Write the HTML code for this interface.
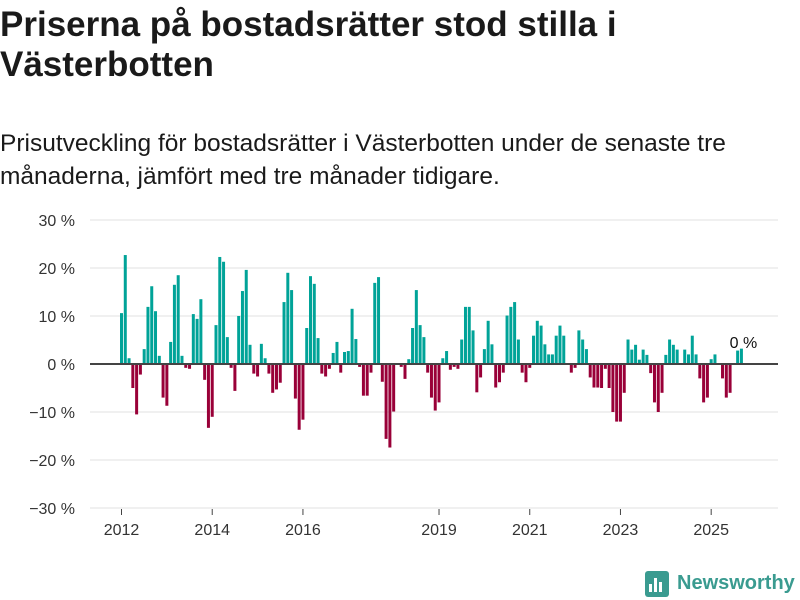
<!DOCTYPE html>
<html><head><meta charset="utf-8"><style>
body{margin:0;width:800px;height:600px;background:#fff;font-family:"Liberation Sans",sans-serif;color:#1a1a1a;overflow:hidden;position:relative}
h1{position:absolute;left:0;top:5px;margin:0;font-size:35px;line-height:40px;font-weight:bold;width:800px;white-space:nowrap}
p{position:absolute;left:0;top:127px;margin:0;font-size:24.5px;line-height:33px;width:800px;white-space:nowrap}
svg{position:absolute;left:0;top:0}
</style></head><body>
<h1>Priserna på bostadsrätter stod stilla i<br>Västerbotten</h1>
<p>Prisutveckling för bostadsrätter i Västerbotten under de senaste tre<br>månaderna, jämfört med tre månader tidigare.</p>
<svg width="800" height="600">
<g id="grid"></g><g id="bars"></g><g id="axes"></g>
<g>
<rect x="645" y="571" width="24" height="26" rx="3" fill="#3a9b90"/>
<rect x="649" y="584" width="3" height="8" fill="#fff"/><rect x="654" y="578" width="3" height="14" fill="#fff"/><rect x="659" y="582" width="3" height="10" fill="#fff"/>
<text x="677" y="589" font-size="20" font-weight="bold" fill="#3a9b90">Newsworthy</text>
</g>
</svg>
<script>
const values=[10.6,22.7,1.2,-5.0,-10.5,-2.2,3.1,11.9,16.2,11.0,1.7,-7.0,
-8.7,4.6,16.5,18.5,1.7,-0.8,-1.0,10.4,9.4,13.5,-3.3,-13.3,
-11,8.1,22.3,21.3,5.6,-0.8,-5.6,10,15.2,19.6,4.0,-2.0,
-2.6,4.2,1.2,-2.0,-6.0,-5.3,-3.9,
12.9,19,15.4,-7.2,-13.7,-11.6,7.5,18.3,16.7,5.4,-2.0,-2.6,-1.0,2.3,4.6,-1.8,2.5,2.7,11.5,5.2,-0.6,-6.6,-6.6,-1.8,16.9,18.1,-3.7,-15.6,-17.4,-9.9,0,-0.6,-3.1,1.0,7.5,15.4,8.1,5.6,-1.8,-7.0,-9.7,-8.0,
1.2,2.7,-1.2,-0.6,-1.0,5.1,11.9,11.9,7.0,-5.9,-2.8,3.1,9.0,4.1,-4.9,-3.8,-1.8,10.1,11.9,12.9,5.1,-1.8,-3.8,-0.8,5.9,9.0,8.0,4.1,2.0,2.0,5.9,8.0,5.9,0,-1.8,-0.8,7.0,5.1,3.1,-2.8,-4.9,-4.9,
-5,-1,-5,-10,-12,-12,-6,5.1,3.0,4.0,0.9,3.0,1.9,-1.9,-8,-10,-6,1.9,5.1,4,3,0,3,2,5.9,2,-3,-8,-7,1,2,0,-3,-7,-6,0,2.8,3.2];
const yTicks=[30,20,10,0,-10,-20,-30];
const xYears=[2012,2014,2016,2019,2021,2023,2025];
const startYear=2012;
const lastLabel="0 %";
const NS="http://www.w3.org/2000/svg";
const y=v=>364-v*4.8;
const x=i=>121.5+i*3.78;
const xYear=yr=>x((yr-startYear)*12);
function mk(t,a,p){const e=document.createElementNS(NS,t);for(const k in a)e.setAttribute(k,a[k]);p.appendChild(e);return e;}
const grid=document.getElementById('grid'),bars=document.getElementById('bars'),axes=document.getElementById('axes');
yTicks.forEach(v=>{
 if(v!==0){const l=mk('line',{x1:90,x2:778,y1:y(v),y2:y(v),stroke:'#e0e0e0','stroke-width':1},grid);
 
 }
 const t=mk('text',{x:75,y:y(v)+6,'text-anchor':'end','font-size':16,fill:'#333'},axes);
 t.textContent=(v<0?'−'+(-v):v)+' %';
 
 
});
values.forEach((v,i)=>{
 const r=mk('rect',{x:x(i)-1.5,width:3,y:Math.min(y(v),y(0)),height:Math.abs(y(v)-y(0)),fill:v>=0?'#00a398':'#990038'},bars);
 
 
});
const z=mk('line',{x1:90,x2:778,y1:y(0),y2:y(0),stroke:'#444','stroke-width':2},axes);


xYears.forEach(yr=>{
 const tk=mk('line',{x1:xYear(yr),x2:xYear(yr),y1:509,y2:515,stroke:'#444'},axes);
 
 
 const t=mk('text',{x:xYear(yr),y:535,'text-anchor':'middle','font-size':16,fill:'#333'},axes);
 t.textContent=yr;
 
 
});
const a=mk('text',{x:x(values.length-1)+2,y:348,'text-anchor':'middle','font-size':16,fill:'#111',stroke:'#fff','stroke-width':3,'paint-order':'stroke'},axes);
a.textContent=lastLabel;


</script>
</body></html>
